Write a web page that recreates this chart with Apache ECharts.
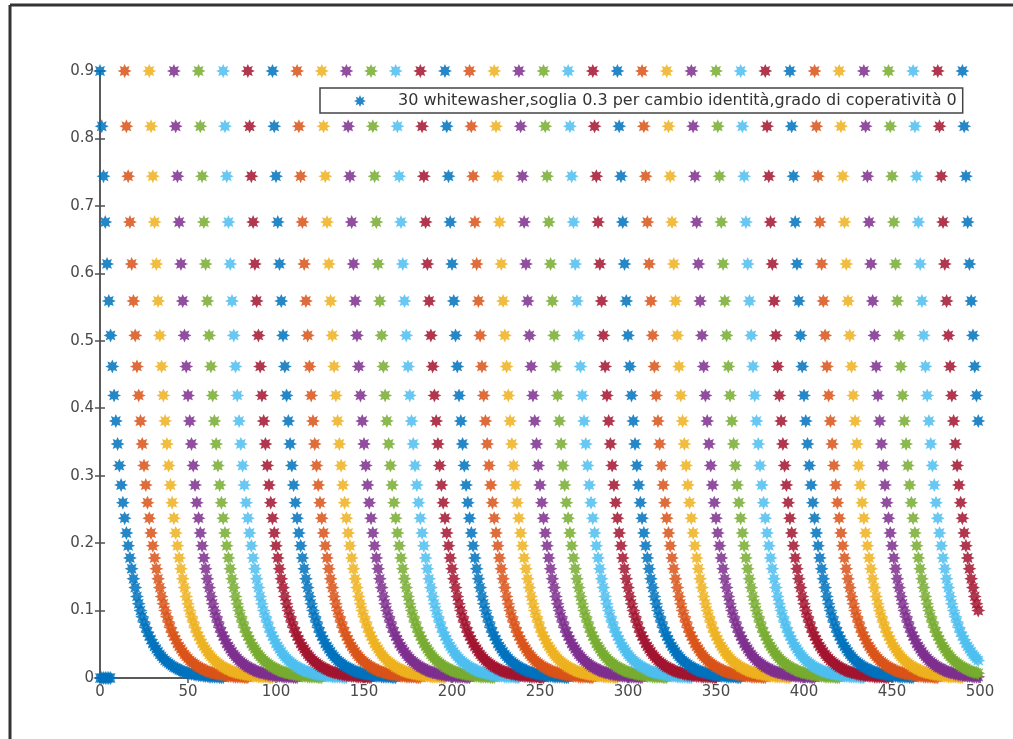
<!DOCTYPE html>
<html>
<head>
<meta charset="utf-8">
<script src="https://cdn.jsdelivr.net/npm/echarts@6/dist/echarts.min.js"></script>
<style>
html,body{margin:0;padding:0;background:#fff;}
#chart{width:1013px;height:739px;}
</style>
</head>
<body>
<div id="chart"></div>
<script>
// Legend text (single entry)
const legendLabel = '30 whitewasher,soglia 0.3 per cambio identità,grado di coperatività 0';
// Start position (x) of each decaying curve
const curveStarts = [0,14,28,42,56,70,84,98,112,126,140,154,168,182,196,210,224,238,252,266,280,294,308,322,336,350,364,378,392,406,420,434,448,462,476,490];
const decayProfile = [0.900,0.818,0.744,0.676,0.614,0.559,0.508,0.462,0.419,0.381,
  0.347,0.315,0.286,0.260,0.237,0.215,0.196,0.178,0.162,0.147,
  0.134,0.121,0.110,0.100,0.091,0.083,0.075,0.068,0.062,0.057,
  0.051,0.047,0.043,0.039,0.035,0.032,0.029,0.026,0.024,0.022,
  0.020,0.018,0.016,0.015,0.014,0.012,0.011,0.010,0.009,0.008,
  0.008,0.007,0.006,0.006,0.005,0.005,0.004,0.004,0.004,0.003,
  0.003,0.003,0.002,0.002,0.002,0.002,0.002,0.002,0.001,0.001,0.001];
// Extra blue points lying on y = 0 at the left edge
const zeroRunX = [0,1,2,3,4,5,6];
const zeroRunY = [0,0,0,0,0,0,0];
// Last x value present in the data
const lastX = 499;
// x and y tick values
const xTicks = [0,50,100,150,200,250,300,350,400,450,500];
const yTicks = ['0','0.1','0.2','0.3','0.4','0.5','0.6','0.7','0.8','0.9'];

const palette = ['#0072BD','#D95319','#EDB120','#7E2F8E','#77AC30','#4DBEEE','#A2142F'];
const star = 'path://M50,0L26,10.8L35.4,35.4L10.8,26L0,50L-10.8,26L-35.4,35.4L-26,10.8L-50,0L-26,-10.8L-35.4,-35.4L-10.8,-26L0,-50L10.8,-26L35.4,-35.4L26,-10.8Z';

const series = curveStarts.map((s, k) => {
  const data = [];
  decayProfile.forEach((v, t) => { if (s + t <= lastX) data.push([s + t, v]); });
  if (k === 0) zeroRunX.forEach((x, i) => data.push([x, zeroRunY[i]]));
  return {
    type: 'scatter',
    name: k === 0 ? legendLabel : 'curve' + k,
    data: data,
    symbol: star,
    symbolSize: 14,
    clip: false,
    itemStyle: { color: palette[k % palette.length], opacity: 0.85 },
    emphasis: { disabled: true },
    z: 3
  };
});

const axisFont = { fontFamily: 'DejaVu Sans', fontSize: 15, color: '#4a4a4a' };
const lineStyle = { color: '#505050', width: 1.5 };

const chart = echarts.init(document.getElementById('chart'));
chart.setOption({
  animation: false,
  backgroundColor: '#fff',
  grid: { left: 100, right: 33, top: 71, bottom: 61, containLabel: false },
  xAxis: [{
    type: 'value', min: xTicks[0], max: xTicks[xTicks.length - 1], interval: 50,
    axisLine: { show: true, lineStyle: lineStyle },
    axisTick: { show: true, inside: true, length: 5, lineStyle: lineStyle },
    axisLabel: Object.assign({ margin: 7 }, axisFont),
    splitLine: { show: false }
  }, {
    type: 'value', position: 'top', min: 0, max: 500, interval: 50,
    axisLine: { show: true, lineStyle: lineStyle },
    axisTick: { show: true, inside: true, length: 5, lineStyle: lineStyle },
    axisLabel: { show: false }, splitLine: { show: false }
  }],
  yAxis: [{
    type: 'value', min: 0, max: 0.9, interval: 0.1,
    axisLine: { show: true, lineStyle: lineStyle },
    axisTick: { show: true, inside: true, length: 5, lineStyle: lineStyle },
    axisLabel: Object.assign({ margin: 6, formatter: (v) => yTicks[Math.round(v * 10)] }, axisFont),
    splitLine: { show: false }
  }, {
    type: 'value', position: 'right', min: 0, max: 0.9, interval: 0.1,
    axisLine: { show: true, lineStyle: lineStyle },
    axisTick: { show: true, inside: true, length: 5, lineStyle: lineStyle },
    axisLabel: { show: false }, splitLine: { show: false }
  }],
  legend: {
    data: [legendLabel],
    left: 320, top: 88,
    padding: [5, 6, 4, 34],
    itemWidth: 12, itemHeight: 12,
    icon: star,
    backgroundColor: '#fff',
    borderColor: '#444', borderWidth: 1.5,
    textStyle: { fontFamily: 'DejaVu Sans', fontSize: 16, color: '#333', padding: [0, 0, 0, 27] },
    selectedMode: false
  },
  graphic: [
    { type: 'line', shape: { x1: 10, y1: 5, x2: 1013, y2: 5 }, style: { stroke: '#333', lineWidth: 3 } },
    { type: 'line', shape: { x1: 10, y1: 5, x2: 10, y2: 739 }, style: { stroke: '#333', lineWidth: 3 } }
  ],
  series: series
});
</script>
</body>
</html>
